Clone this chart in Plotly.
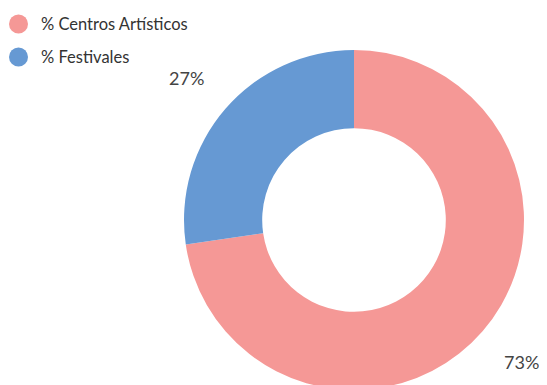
import math
import plotly.graph_objects as go

labels = ["% Centros Artísticos", "% Festivales"]
values = [72.7, 27.3]
colors = ["#F59896", "#6699D3"]

W, H = 547, 400
OFF = 8  # page body margin
cx, cy, r = 354 - OFF, 220 - OFF, 170  # pixel layout of the donut (figure coords)

dom_x = [(cx - r) / W, (cx + r) / W]
dom_y = [(H - (cy + r)) / H, (H - (cy - r)) / H]

fig = go.Figure()
fig.add_trace(go.Pie(
    labels=labels, values=values, hole=0.54, sort=False, direction="clockwise",
    rotation=0, marker=dict(colors=colors, line=dict(width=0)),
    textinfo="none", showlegend=False, domain=dict(x=dom_x, y=dom_y),
    hoverinfo="label+percent",
))

# outside percentage labels computed from data
total = sum(values)
cum = 0
annots = []
for v in values:
    mid = (cum + v / 2) / total * 2 * math.pi
    cum += v
    px = cx + 1.3 * r * math.sin(mid)
    py = cy - 1.28 * r * math.cos(mid)
    annots.append(dict(x=px / W, y=1 - py / H, xref="paper", yref="paper",
                       xanchor="center", yanchor="middle",
                       text=f"{round(v / total * 100)}%", showarrow=False,
                       font=dict(size=18, color="#444", family="Lato")))

# custom legend with round markers
shapes = []
leg_x, leg_y0, leg_dy, rad = 18.5 - OFF, 24 - OFF, 33, 9.5
for i, (lab, col) in enumerate(zip(labels, colors)):
    yy = leg_y0 + i * leg_dy
    shapes.append(dict(type="circle", xref="paper", yref="paper",
                       x0=(leg_x - rad) / W, x1=(leg_x + rad) / W,
                       y0=1 - (yy + rad) / H, y1=1 - (yy - rad) / H,
                       fillcolor=col, line=dict(width=0)))
    annots.append(dict(x=(39 - OFF) / W, y=1 - yy / H, xref="paper", yref="paper",
                       xanchor="left", yanchor="middle", text=lab, showarrow=False,
                       font=dict(size=16.5, color="#333", family="Lato")))

fig.update_layout(
    width=W, height=H, margin=dict(l=0, r=0, t=0, b=0),
    paper_bgcolor="white", plot_bgcolor="white",
    font=dict(family="Lato", size=15, color="#333"),
    showlegend=False,
    annotations=annots, shapes=shapes,
)

fig.write_html("out.html")
